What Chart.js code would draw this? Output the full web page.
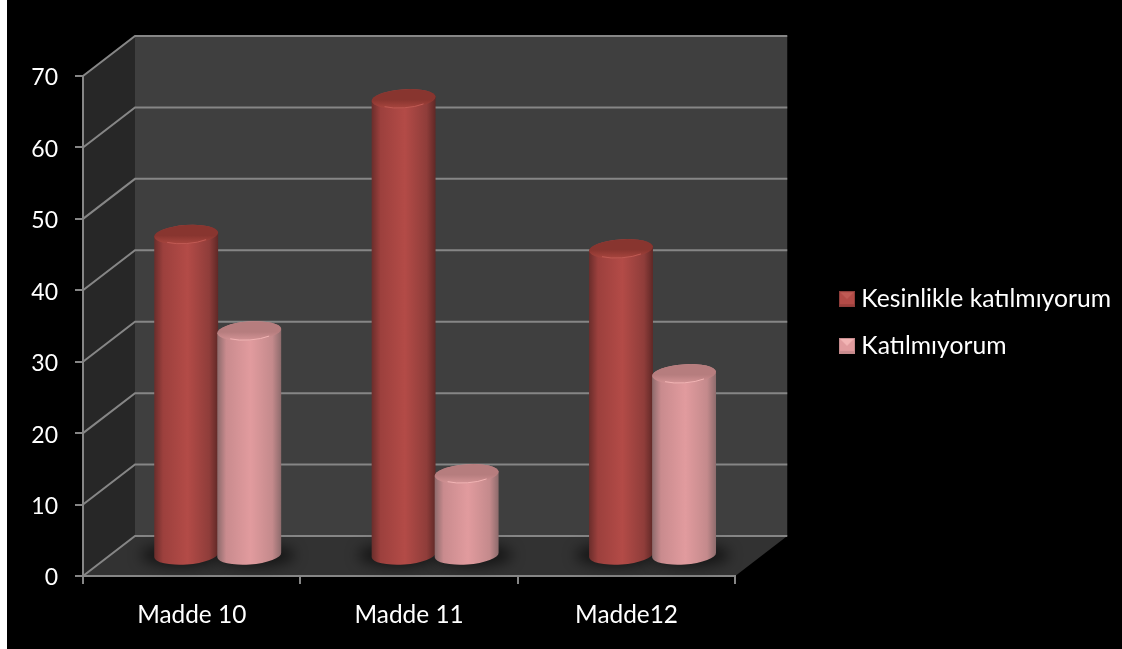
<!DOCTYPE html>
<html>
<head>
<meta charset="utf-8">
<script src="https://cdn.jsdelivr.net/npm/chart.js@4"></script>
<style>
    html, body { margin: 0; padding: 0; background: #fff; overflow: hidden; }
    #chart { position: absolute; left: 7px; top: 0; background: #000; }
</style>
</head>
<body>
<canvas id="chart" width="1115" height="649"></canvas>
<script>
// Values
const categories = ['Madde 10', 'Madde 11', 'Madde12'];
const strongDisagree = [45, 64, 43];
const disagree = [31.5, 11.5, 25.5];
const seriesNames = ['Kesinlikle katılmıyorum', 'Katılmıyorum'];

const FONT = 'Lato';
const AXIS_COLOR = '#868686';
// how far the back wall sits behind the front plane
const DEPTH_X = 52;
const DEPTH_Y = -40;
const TILT = -0.07;

const RED = { left: '#6a2d2b', l2: '#9c403d', mid: '#b34b47', r2: '#8f3d3a', right: '#5f2826', top: '#88352f', topEdge: '#a9463f', rim: '#c05a54' };
const PINK = { left: '#8c6a6b', l2: '#c98b8e', mid: '#e19b9e', r2: '#c48a8c', right: '#8d6b6c', top: '#b67d7e', topEdge: '#d49496', rim: '#f2b4b4' };

function legendSwatch(c) {
    const cv = document.createElement('canvas');
    cv.width = 16; cv.height = 16;
    const g = cv.getContext('2d');
    g.fillStyle = c.r2;
    g.fillRect(0, 0, 16, 16);
    g.fillStyle = c.mid;
    g.fillRect(1, 1, 14, 14);
    g.fillStyle = c.rim;
    g.beginPath();
    g.moveTo(1, 1); g.lineTo(15, 1); g.lineTo(8, 8);
    g.closePath();
    g.fill();
    g.fillStyle = c.l2;
    g.fillRect(1, 13, 14, 2);
    return cv;
}

function strokeLine(ctx, pts) {
    ctx.beginPath();
    pts.forEach((p, i) => i ? ctx.lineTo(p[0], p[1]) : ctx.moveTo(p[0], p[1]));
    ctx.stroke();
}

function fillPoly(ctx, pts, color) {
    ctx.fillStyle = color;
    ctx.beginPath();
    pts.forEach((p, i) => i ? ctx.lineTo(p[0], p[1]) : ctx.moveTo(p[0], p[1]));
    ctx.closePath();
    ctx.fill();
}

// Walls, floor and gridlines, positioned from the axes
const frame3d = {
    id: 'frame3d',
    beforeDraw(chart) {
        const ctx = chart.ctx;
        const { left, right, top, bottom } = chart.chartArea;
        const dx = DEPTH_X, dy = DEPTH_Y;
        ctx.save();
        fillPoly(ctx, [[left + dx, top + dy], [right + dx, top + dy], [right + dx, bottom + dy], [left + dx, bottom + dy]], '#3f3f3f');
        fillPoly(ctx, [[left, top], [left + dx, top + dy], [left + dx, bottom + dy], [left, bottom]], '#272727');
        fillPoly(ctx, [[left, bottom], [left + dx, bottom + dy], [right + dx, bottom + dy], [right, bottom]], '#323232');
        ctx.strokeStyle = AXIS_COLOR;
        ctx.lineWidth = 2;
        const yScale = chart.scales.y;
        yScale.ticks.forEach(t => {
            const y = yScale.getPixelForValue(t.value);
            strokeLine(ctx, [[left, y], [left + dx, y + dy], [right + dx, y + dy]]);
        });
        ctx.restore();
    }
};

function drawCylinder(ctx, bar, c) {
    const x = bar.x + DEPTH_X / 2;
    const yTop = bar.y + DEPTH_Y / 2;
    const yBase = bar.base + DEPTH_Y / 2;
    const rx = bar.width / 2 + 0.5;
    const ry = 9.5;

    const g = ctx.createLinearGradient(x - rx, 0, x + rx, 0);
    g.addColorStop(0, c.left);
    g.addColorStop(0.14, c.l2);
    g.addColorStop(0.52, c.mid);
    g.addColorStop(0.86, c.r2);
    g.addColorStop(1, c.right);
    ctx.fillStyle = g;
    ctx.beginPath();
    ctx.ellipse(x, yBase, rx, ry, TILT, 0, Math.PI);
    ctx.ellipse(x, yTop, rx, ry, TILT, Math.PI, Math.PI * 2);
    ctx.closePath();
    ctx.fill();

    // top face, lighter towards the front edge
    const t = ctx.createLinearGradient(0, yTop - ry, 0, yTop + ry);
    t.addColorStop(0, c.top);
    t.addColorStop(0.55, c.top);
    t.addColorStop(1, c.topEdge);
    ctx.fillStyle = t;
    ctx.beginPath();
    ctx.ellipse(x, yTop, rx, ry, TILT, 0, Math.PI * 2);
    ctx.fill();

    ctx.strokeStyle = c.rim;
    ctx.lineWidth = 1;
    ctx.beginPath();
    ctx.ellipse(x, yTop, rx - 4, ry - 0.5, TILT, 0.8, Math.PI - 0.8);
    ctx.stroke();
}

const cylinders = {
    id: 'cylinders',
    afterDatasetsDraw(chart) {
        const ctx = chart.ctx;
        ctx.save();
        // soft shadows on the floor first
        ctx.filter = 'blur(7px)';
        ctx.fillStyle = 'rgba(0,0,0,0.6)';
        chart.data.datasets.forEach((ds, i) => {
            chart.getDatasetMeta(i).data.forEach(bar => {
                ctx.beginPath();
                ctx.ellipse(bar.x + DEPTH_X / 2 + (i ? 6 : -6), bar.base + DEPTH_Y / 2, bar.width / 2 + 8, 11, 0, 0, Math.PI * 2);
                ctx.fill();
            });
        });
        ctx.filter = 'none';
        [RED, PINK].forEach((c, i) => {
            chart.getDatasetMeta(i).data.forEach(bar => drawCylinder(ctx, bar, c));
        });
        ctx.restore();
    }
};

// Legend sits further right than the plot edge, so move it after layout
const legendPlace = {
    id: 'legendPlace',
    afterLayout(chart) {
        const lg = chart.legend;
        lg.left = 816; lg.right = 1115;
        lg.top = 0; lg.bottom = 645;
    }
};

new Chart(document.getElementById('chart'), {
    type: 'bar',
    data: {
        labels: categories,
        datasets: [
            { label: seriesNames[0], data: strongDisagree, backgroundColor: 'transparent' },
            { label: seriesNames[1], data: disagree, backgroundColor: 'transparent' }
        ]
    },
    plugins: [frame3d, cylinders, legendPlace],
    options: {
        responsive: false,
        devicePixelRatio: 1,
        animation: false,
        categoryPercentage: 0.58,
        barPercentage: 1,
        layout: { padding: { left: 0, top: 76, right: 144, bottom: 0 } },
        scales: {
            x: {
                grid: { drawOnChartArea: false, drawTicks: true, tickLength: 8, color: AXIS_COLOR, lineWidth: 2 },
                border: { color: AXIS_COLOR, width: 2 },
                ticks: { color: '#fff', font: { family: FONT, size: 24.4 }, padding: 17, maxRotation: 0 },
                afterFit(s) { s.height = 73; }
            },
            y: {
                min: 0,
                max: 70,
                grid: { drawOnChartArea: false, drawTicks: true, tickLength: 8, color: AXIS_COLOR, lineWidth: 2 },
                border: { color: AXIS_COLOR, width: 2 },
                ticks: { stepSize: 10, color: '#fff', font: { family: FONT, size: 23 }, padding: 17, labelOffset: 2 },
                afterFit(s) { s.width = 76; }
            }
        },
        plugins: {
            tooltip: { enabled: false },
            legend: {
                position: 'right',
                labels: {
                    color: '#fff',
                    font: { family: FONT, size: 24.7 },
                    padding: 22,
                    usePointStyle: true,
                    pointStyleWidth: 4,
                    generateLabels(chart) {
                        const items = Chart.defaults.plugins.legend.labels.generateLabels(chart);
                        items.forEach((it, i) => { it.pointStyle = legendSwatch(i ? PINK : RED); });
                        return items;
                    }
                }
            }
        }
    }
});
</script>
</body>
</html>
